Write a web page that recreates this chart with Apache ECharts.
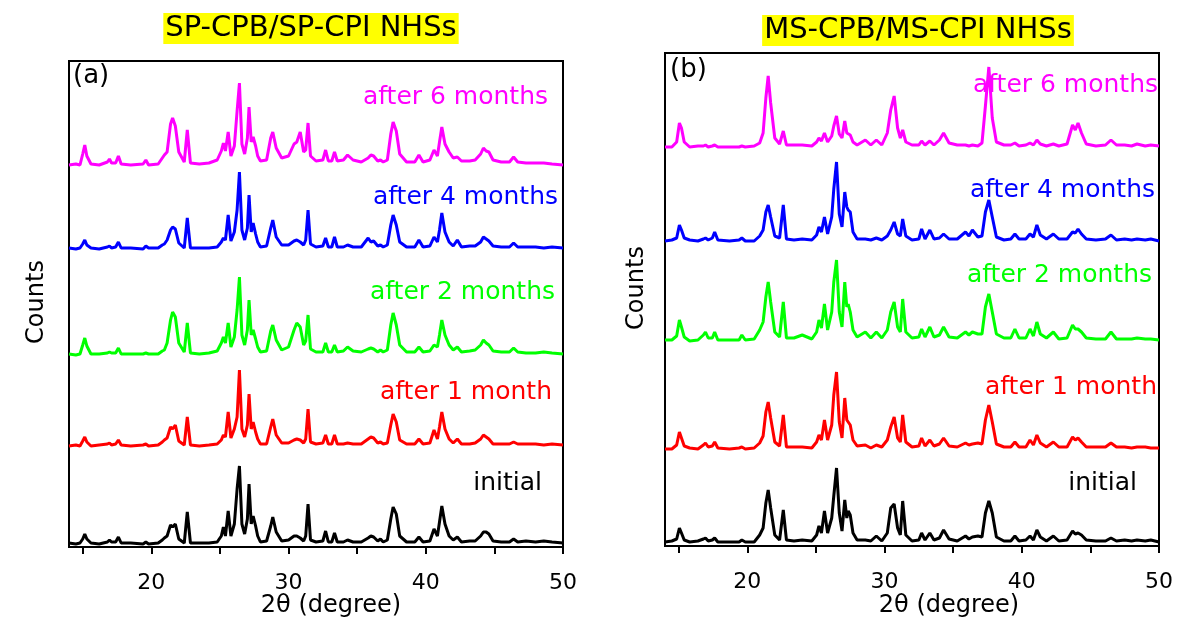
<!DOCTYPE html>
<html>
<head>
<meta charset="utf-8">
<script src="https://cdn.jsdelivr.net/npm/echarts@6/dist/echarts.min.js"></script>
<style>
html, body { margin: 0; padding: 0; background: #fff; }
#main { width: 1184px; height: 622px; }
</style>
</head>
<body>
<div id="main"></div>
<script>
// ---- panel (a): SP-CPB/SP-CPI NHSs ----
// 2θ positions (baseline points and peak tops)
var thetaA = [
  14.0, 14.5, 14.8, 15.0, 15.15, 15.3, 15.6, 16.2, 16.8, 16.95,
  17.1, 17.4, 17.6, 17.8, 18.5, 19.4, 19.6, 19.8, 20.5, 20.8,
  20.95, 21.15, 21.4, 21.55, 21.75, 22.0, 22.4, 22.62, 22.85, 23.5,
  24.2, 24.8, 25.1, 25.25, 25.4, 25.6, 25.8, 26.05, 26.25, 26.42,
  26.6, 26.8, 27.0, 27.12, 27.28, 27.42, 27.6, 27.75, 27.95, 28.4,
  28.7, 28.85, 29.1, 29.5, 30.0, 30.4, 30.6, 30.85, 31.1, 31.25,
  31.42, 31.6, 32.0, 32.5, 32.7, 32.9, 33.15, 33.35, 33.55, 34.0,
  34.3, 34.7, 35.3, 35.8, 36.0, 36.2, 36.5, 36.7, 36.9, 37.2,
  37.45, 37.62, 37.85, 38.1, 38.6, 39.2, 39.5, 39.8, 40.3, 40.6,
  40.85, 41.0, 41.17, 41.4, 41.7, 42.0, 42.3, 42.6, 43.2, 43.6,
  44.0, 44.2, 44.4, 44.6, 44.9, 45.5, 46.1, 46.4, 46.7, 47.3,
  48.0, 48.6, 49.2, 50.0
];
var initialA = [
  1,0,1,5,10,5,1,0,2,4,
  2,2,7,1,1,0,2,0,1,4,
  6,8,19,17,20,5,1,32,1,1,
  1,2,8,17,8,33,8,20,55,78,
  20,10,25,60,20,28,18,8,2,3,
  18,27,12,3,4,8,8,6,3,8,
  40,4,2,3,13,2,2,11,2,2,
  4,2,2,6,8,7,3,5,2,4,
  25,37,30,8,2,2,7,2,3,15,
  8,22,38,20,8,4,7,2,3,3,
  8,12,12,10,3,2,2,5,2,3,
  2,3,2,1
];
var month1A = [
  1,2,1,6,10,5,1,2,3,4,
  2,3,7,2,1,2,3,1,2,5,
  7,9,20,18,22,6,2,30,2,1,
  2,3,7,12,10,35,9,18,30,77,
  18,10,22,53,18,25,15,8,3,3,
  20,28,12,4,4,7,8,7,4,8,
  38,5,3,4,12,3,3,12,3,3,
  4,3,3,8,10,9,4,5,3,4,
  22,33,25,7,3,3,8,3,4,17,
  8,20,35,18,8,4,8,3,3,4,
  8,12,10,8,3,3,3,5,3,3,
  3,2,3,2
];
var month2A = [
  1,0,1,10,17,9,1,1,2,3,
  2,2,7,1,1,1,2,1,1,4,
  5,12,35,43,38,12,3,32,2,1,
  2,4,12,18,12,32,8,18,45,78,
  20,10,25,55,20,25,16,8,3,4,
  24,30,15,5,8,25,32,28,10,14,
  40,6,3,3,12,3,3,10,3,4,
  8,4,3,6,7,6,3,5,3,5,
  30,42,30,10,3,3,8,3,4,10,
  8,20,35,20,10,5,8,3,4,5,
  10,15,12,10,4,3,3,7,3,2,
  2,3,2,1
];
var month4A = [
  2,1,2,6,10,5,2,1,3,4,
  2,3,8,2,2,1,4,2,2,5,
  6,10,20,23,21,7,2,32,2,2,
  2,3,8,12,10,35,9,18,40,78,
  20,10,22,55,18,27,16,8,3,4,
  22,30,13,5,5,9,10,8,5,10,
  40,6,3,4,12,3,3,13,3,3,
  5,3,3,12,8,9,4,5,3,5,
  25,35,25,8,3,3,10,3,4,13,
  8,20,37,18,8,4,10,3,4,4,
  8,13,11,9,4,3,3,7,3,3,
  3,2,3,2
];
var month6A = [
  1,2,1,12,21,10,2,1,4,7,
  3,3,10,2,1,2,6,1,2,8,
  11,14,42,48,40,14,4,36,3,2,
  3,6,15,23,15,34,10,20,55,83,
  22,12,28,59,24,29,20,10,5,6,
  28,34,18,8,10,22,24,34,14,16,
  43,10,5,6,16,5,5,14,5,6,
  11,6,4,8,11,10,5,6,4,6,
  32,44,35,12,4,4,11,4,6,16,
  10,24,39,22,14,8,9,5,5,6,
  12,18,15,14,6,4,4,9,4,3,
  3,3,2,1
];
var offsetsA = [3, 100, 192, 297, 381];   // vertical stacking of the traces

// ---- panel (b): MS-CPB/MS-CPI NHSs ----
var thetaB = [
  14.0, 14.5, 14.85, 15.05, 15.2, 15.4, 15.8, 16.4, 16.8, 16.95,
  17.15, 17.45, 17.62, 17.85, 18.7, 19.4, 19.6, 19.85, 20.5, 20.9,
  21.15, 21.35, 21.52, 21.7, 22.0, 22.35, 22.62, 22.85, 23.4, 24.0,
  24.7, 25.05, 25.22, 25.4, 25.62, 25.85, 26.15, 26.3, 26.5, 26.7,
  26.9, 27.1, 27.25, 27.35, 27.5, 27.7, 28.0, 28.6, 29.0, 29.4,
  29.8, 30.2, 30.45, 30.7, 30.95, 31.15, 31.32, 31.55, 32.0, 32.5,
  32.7, 32.95, 33.3, 33.6, 34.0, 34.3, 34.7, 35.3, 35.9, 36.15,
  36.4, 36.8, 37.1, 37.35, 37.6, 37.85, 38.15, 38.7, 39.2, 39.5,
  39.8, 40.3, 40.6, 40.85, 41.1, 41.35, 41.8, 42.3, 42.7, 43.3,
  43.7, 43.9, 44.1, 44.35, 44.7, 45.4, 46.1, 46.5, 46.9, 47.5,
  48.0, 48.4, 49.0, 49.4, 50.0
];
var initialB = [
  1,2,4,15,10,3,1,2,4,5,
  2,3,5,1,1,1,3,1,1,8,
  15,40,53,35,8,3,33,3,2,3,
  2,8,17,10,32,10,25,47,75,30,
  12,43,25,32,28,10,3,3,2,7,
  2,10,35,39,15,8,42,8,2,3,
  10,3,10,3,5,13,4,2,7,4,
  6,7,6,30,42,30,6,2,2,7,
  2,3,7,3,13,6,2,7,2,3,
  12,9,10,8,3,2,2,5,2,3,
  2,3,2,3,1
];
var month1B = [
  1,1,5,18,12,4,2,1,5,7,
  3,4,8,2,1,2,3,1,2,7,
  14,38,48,32,8,4,35,3,3,3,
  2,8,15,10,30,10,25,55,78,28,
  12,52,30,32,25,10,4,5,2,5,
  3,10,23,33,12,8,35,8,3,4,
  12,4,10,4,6,12,4,3,7,5,
  6,7,6,30,45,28,6,3,3,8,
  3,3,10,5,15,7,3,8,3,3,
  13,10,12,8,3,3,3,7,3,3,
  2,3,3,2,2
];
var month2B = [
  2,2,6,22,15,5,1,2,7,10,
  4,4,10,2,2,2,7,2,3,12,
  20,45,60,40,10,5,40,4,4,7,
  3,10,22,14,38,12,30,60,82,30,
  15,60,35,38,30,12,5,10,4,10,
  4,12,30,40,15,10,43,10,4,5,
  13,5,15,5,7,15,5,4,10,7,
  10,8,8,35,48,30,8,4,4,13,
  4,4,13,6,20,8,4,10,3,4,
  17,13,13,10,4,3,3,10,3,3,
  3,4,3,3,2
];
var month4B = [
  1,2,4,17,12,4,2,1,3,4,
  2,4,10,2,1,2,4,1,1,6,
  12,30,37,25,6,4,37,3,2,3,
  2,7,15,10,25,8,25,53,80,28,
  15,50,35,32,30,10,3,3,2,4,
  2,6,12,20,8,6,23,6,2,3,
  13,3,12,3,4,8,3,3,10,6,
  12,5,6,30,42,25,5,2,3,8,
  3,3,8,5,17,7,3,8,3,3,
  10,9,13,8,3,2,3,7,2,3,
  2,3,2,3,1
];
var month6B = [
  1,1,6,25,20,6,1,2,2,3,
  1,2,3,1,1,1,2,1,2,5,
  15,50,72,45,10,4,17,3,3,3,
  2,6,10,7,15,6,12,22,32,14,
  10,27,15,15,13,6,3,8,3,8,
  3,15,38,52,20,10,18,6,3,3,
  7,3,7,3,8,15,5,3,3,2,
  3,2,5,42,81,30,6,3,3,5,
  2,3,5,3,8,4,2,4,2,4,
  23,18,25,15,4,2,3,8,3,3,
  2,4,2,3,2
];
var offsetsB = [3, 96, 204, 304, 398];

var traceNames = ['initial', 'after 1 month', 'after 2 months', 'after 4 months', 'after 6 months'];
var traceColors = ['#000000', '#ff0000', '#00ff00', '#0000ff', '#ff00ff'];
var tickValues = [15, 20, 25, 30, 35, 40, 45, 50];
var labelValues = [20, 30, 40, 50];

var FONT = 'DejaVu Sans';

// 把一条曲线加上偏移量，组装成 [2θ, y]
function buildData(theta, vals, off) {
    var out = [];
    for (var i = 0; i < theta.length; i++) {
        out.push([theta[i], vals[i] + off]);
    }
    return out;
}

var series = [];
var setsA = [initialA, month1A, month2A, month4A, month6A];
var setsB = [initialB, month1B, month2B, month4B, month6B];
for (var k = 0; k < 5; k++) {
    series.push({
        name: traceNames[k], type: 'line', xAxisIndex: 0, yAxisIndex: 0,
        data: buildData(thetaA, setsA[k], offsetsA[k]),
        showSymbol: false, silent: true,
        lineStyle: { color: traceColors[k], width: 3 }
    });
    series.push({
        name: traceNames[k], type: 'line', xAxisIndex: 1, yAxisIndex: 1,
        data: buildData(thetaB, setsB[k], offsetsB[k]),
        showSymbol: false, silent: true,
        lineStyle: { color: traceColors[k], width: 3 }
    });
}

function xAxisOpt(gridIndex) {
    return {
        gridIndex: gridIndex, type: 'value', min: 14, max: 50,
        axisLine: { show: true, onZero: false, lineStyle: { color: '#000', width: 2 } },
        axisTick: { show: true, customValues: tickValues, length: 7, lineStyle: { color: '#000', width: 2 } },
        axisLabel: { show: true, customValues: labelValues, margin: 25, fontFamily: FONT, fontSize: 22, color: '#000' },
        splitLine: { show: false }
    };
}
function yAxisOpt(gridIndex, max) {
    return {
        gridIndex: gridIndex, type: 'value', min: 0, max: max,
        axisLine: { show: true, onZero: false, lineStyle: { color: '#000', width: 2 } },
        axisTick: { show: false }, axisLabel: { show: false }, splitLine: { show: false }
    };
}

function txt(x, y, s, color, align, size, rot) {
    return {
        type: 'text', x: x, y: y, z: 10, rotation: rot || 0,
        style: { text: s, fill: color, font: size + 'px "' + FONT + '"', textAlign: align, textVerticalAlign: 'middle' }
    };
}

var myChart = echarts.init(document.getElementById('main'));

var option = {
    animation: false,
    backgroundColor: '#ffffff',
    title: [
        { text: 'SP-CPB/SP-CPI NHSs', left: 309, top: 13, textAlign: 'center', backgroundColor: '#ffff00', padding: [1, 2],
          textStyle: { fontFamily: FONT, fontSize: 29, fontWeight: 'normal', color: '#000' } },
        { text: 'MS-CPB/MS-CPI NHSs', left: 916, top: 15, textAlign: 'center', backgroundColor: '#ffff00', padding: [1, 2],
          textStyle: { fontFamily: FONT, fontSize: 29, fontWeight: 'normal', color: '#000' } }
    ],
    grid: [
        { left: 69, top: 61, width: 494, height: 486, show: true, borderColor: '#000', borderWidth: 2, backgroundColor: 'transparent' },
        { left: 665, top: 53, width: 494, height: 493, show: true, borderColor: '#000', borderWidth: 2, backgroundColor: 'transparent' }
    ],
    xAxis: [xAxisOpt(0), xAxisOpt(1)],
    yAxis: [yAxisOpt(0, 486), yAxisOpt(1, 493)],
    graphic: [
        // axis titles
        txt(331, 606, '2\u03b8 (degree)', '#000', 'center', 24),
        txt(949, 606, '2\u03b8 (degree)', '#000', 'center', 24),
        txt(37, 302, 'Counts', '#000', 'center', 24, Math.PI / 2),
        txt(637, 288, 'Counts', '#000', 'center', 24, Math.PI / 2),
        // panel tags and trace labels
        txt(73, 76, '(a)', '#000', 'left', 26),
        txt(670, 70, '(b)', '#000', 'left', 26),
        txt(548, 97, 'after 6 months', '#ff00ff', 'right', 25),
        txt(558, 197, 'after 4 months', '#0000ff', 'right', 25),
        txt(555, 292, 'after 2 months', '#00ff00', 'right', 25),
        txt(552, 392, 'after 1 month', '#ff0000', 'right', 25),
        txt(542, 483, 'initial', '#000', 'right', 25),
        txt(1158, 85, 'after 6 months', '#ff00ff', 'right', 25),
        txt(1155, 190, 'after 4 months', '#0000ff', 'right', 25),
        txt(1152, 275, 'after 2 months', '#00ff00', 'right', 25),
        txt(1157, 387, 'after 1 month', '#ff0000', 'right', 25),
        txt(1137, 483, 'initial', '#000', 'right', 25)
    ],
    series: series
};

myChart.setOption(option);
</script>
</body>
</html>
